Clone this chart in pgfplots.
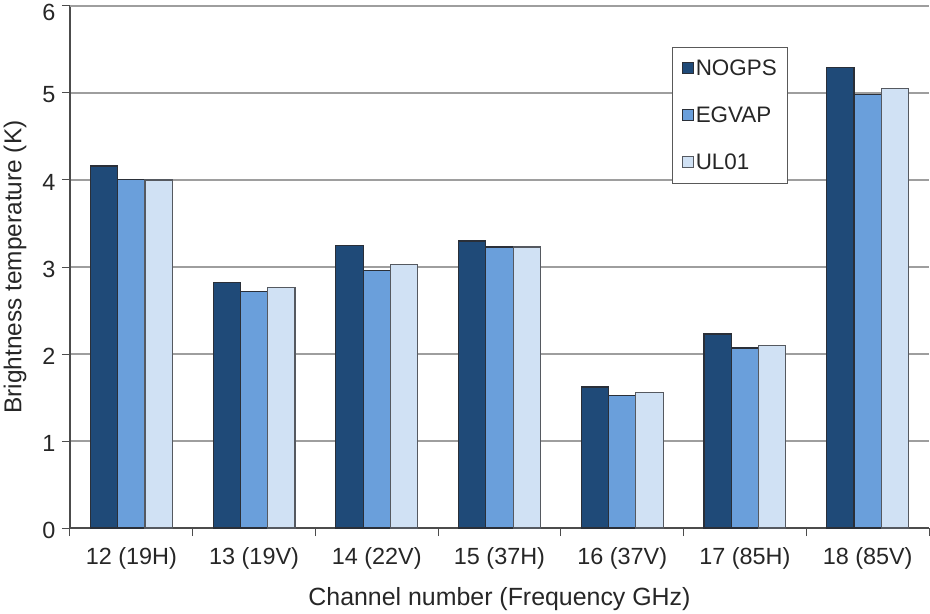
\documentclass[border=0pt]{standalone}
\usepackage{pgfplots}
\pgfplotsset{compat=1.18}
\usepackage{fontspec}
\setmainfont{Liberation Sans}
\definecolor{cA}{HTML}{1F4A78}
\definecolor{cB}{HTML}{6A9FDB}
\definecolor{cC}{HTML}{D0E1F4}
\definecolor{edge}{HTML}{2A2F38}
\pgfplotsset{mylegend/.style={legend image code/.code={\draw[##1, line width=1bp] (0bp,-5bp) rectangle (11bp,6bp);}}}
\begin{document}
\begin{tikzpicture}
\begin{axis}[name=ax, scale only axis, width=859bp, height=522bp,
  ybar=0pt, bar width=27.3bp,
  xmin=-0.5, xmax=6.5, ymin=0, ymax=6,
  xtick={0,...,6},
  xticklabels={12 (19H),13 (19V),14 (22V),15 (37H),16 (37V),17 (85H),18 (85V)},
  minor xtick={-0.5,0.5,...,6.5},
  ytick={0,...,5},
  extra y ticks={6},
  extra y tick style={yticklabel style={yshift=-4bp}},
  axis lines=left,
  axis line style={-, draw=black!70, line width=1.2bp},
  tick align=outside,
  major tick length=8bp, minor tick length=8bp,
  every major x tick/.append style={draw=none},
  minor x tick style={draw=black!70, line width=1bp},
  y tick style={draw=black!70, line width=1bp},
  ymajorgrids, grid style={draw=black!38, line width=1.1bp},
  /pgf/number format/assume math mode=true,
  tick label style={font=\fontsize{23.5}{27}\selectfont, text=black!85},
  xticklabel style={yshift=-8bp},
  yticklabel style={xshift=-3bp, yshift=-2bp},
  label style={text=black!85},
  xlabel={Channel number (Frequency GHz)},
  ylabel={Brightness temperature (K)},
  xlabel style={at={(axis description cs:0.5,-0.1475)}, anchor=base, font=\fontsize{25}{29}\selectfont},
  ylabel style={at={(axis description cs:-0.064,0.5)}, anchor=center, font=\fontsize{24.5}{29}\selectfont},
  legend style={at={(0.701,0.921)}, anchor=north west, draw=black!65, line width=1.2bp,
    fill=white, font=\fontsize{22.5}{25}\selectfont, row sep=26bp, inner xsep=9bp, inner ysep=10bp,
    text=black!85},
  legend cell align=left,
]
\addplot[fill=cA, draw=edge, line width=1.2bp, mylegend] coordinates {(0,4.16) (1,2.82) (2,3.25) (3,3.30) (4,1.62) (5,2.23) (6,5.29)};
\addplot[fill=cB, draw=edge, line width=1.2bp, mylegend] coordinates {(0,4.01) (1,2.72) (2,2.96) (3,3.23) (4,1.52) (5,2.07) (6,4.98)};
\addplot[fill=cC, draw=edge!80, line width=1.2bp, mylegend] coordinates {(0,4.00) (1,2.76) (2,3.03) (3,3.23) (4,1.555) (5,2.10) (6,5.05)};
\legend{NOGPS,EGVAP,UL01}
\end{axis}
\pgfresetboundingbox
\path ([xshift=-70bp,yshift=-85bp]ax.south west) rectangle ([xshift=1bp,yshift=6bp]ax.north east);
\end{tikzpicture}
\end{document}
